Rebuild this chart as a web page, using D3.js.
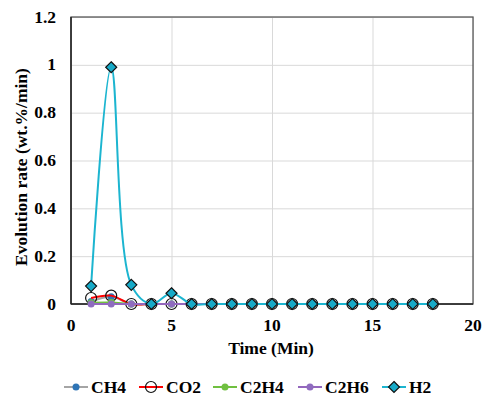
<!DOCTYPE html>
<html>
<head>
<meta charset="utf-8">
<script src="https://cdn.jsdelivr.net/npm/d3@7"></script>
<style>
  body { margin: 0; background: #fff; }
</style>
</head>
<body>
<div id="chart"></div>
<script>
// chart values
const times = [1, 2, 3, 4, 5, 6, 7, 8, 9, 10, 11, 12, 13, 14, 15, 16, 17, 18];
const ch4 = [0.01, 0.03, 0, 0, 0, 0, 0, 0, 0, 0, 0, 0, 0, 0, 0, 0, 0, 0];
const co2 = [0.025, 0.035, 0, 0, 0, 0, 0, 0, 0, 0, 0, 0, 0, 0, 0, 0, 0, 0];
const c2h4 = [0.005, 0.006, 0, 0, 0, 0, 0, 0, 0, 0, 0, 0, 0, 0, 0, 0, 0, 0];
const c2h6 = [0, 0, 0, 0, 0, 0, 0, 0, 0, 0, 0, 0, 0, 0, 0, 0, 0, 0];
const h2 = [0.075, 0.99, 0.08, 0, 0.045, 0, 0, 0, 0, 0, 0, 0, 0, 0, 0, 0, 0, 0];
const xTicks = [0, 5, 10, 15, 20];
const yTicks = [0, 0.2, 0.4, 0.6, 0.8, 1, 1.2];

const series = [
  { name: "CH4", values: ch4, line: "#a5a5a5", marker: "dot", fill: "#2e75b6" },
  { name: "CO2", values: co2, line: "#ff0000", marker: "circle", fill: "none" },
  { name: "C2H4", values: c2h4, line: "#70c040", marker: "dot", fill: "#70c040" },
  { name: "C2H6", values: c2h6, line: "#9467bd", marker: "dot", fill: "#8f6cbf" },
  { name: "H2", values: h2, line: "#1cb5d0", marker: "diamond", fill: "#17aac8" }
];

const width = 483, height = 397;
const FONT = "'Liberation Serif', 'Times New Roman', serif";

const svg = d3.select("#chart").append("svg")
  .attr("width", width)
  .attr("height", height)
  .attr("font-family", FONT)
  .attr("font-weight", "bold");

const xScale = d3.scaleLinear().domain([0, 20]).range([71, 473]);
const yScale = d3.scaleLinear().domain([0, 1.2]).range([304, 17]);

// gridlines
svg.append("g")
  .attr("transform", "translate(0,304)")
  .call(d3.axisBottom(xScale).tickValues(xTicks).tickSize(-(304 - 17)).tickFormat(""))
  .call(g => g.select(".domain").remove())
  .call(g => g.selectAll("line").attr("stroke", "#d9d9d9").attr("stroke-width", 1));

svg.append("g")
  .attr("transform", "translate(71,0)")
  .call(d3.axisLeft(yScale).tickValues(yTicks).tickSize(-(473 - 71)).tickFormat(""))
  .call(g => g.select(".domain").remove())
  .call(g => g.selectAll("line").attr("stroke", "#d9d9d9").attr("stroke-width", 1));

// frame
svg.append("rect")
  .attr("x", xScale(0))
  .attr("y", yScale(1.2))
  .attr("width", xScale(20) - xScale(0))
  .attr("height", yScale(0) - yScale(1.2))
  .attr("fill", "none")
  .attr("stroke", "#595959")
  .attr("stroke-width", 1.3);

svg.append("line")
  .attr("x1", xScale(0)).attr("x2", xScale(20))
  .attr("y1", yScale(0)).attr("y2", yScale(0))
  .attr("stroke", "#222").attr("stroke-width", 1.5);
svg.append("line")
  .attr("x1", xScale(0)).attr("x2", xScale(0))
  .attr("y1", yScale(0)).attr("y2", yScale(1.2))
  .attr("stroke", "#222").attr("stroke-width", 1.5);

// tick labels
svg.append("g").selectAll("text")
  .data(xTicks).enter().append("text")
  .attr("x", d => xScale(d))
  .attr("y", 331)
  .attr("text-anchor", "middle")
  .attr("font-size", 17.5)
  .text(d => d);

svg.append("g").selectAll("text")
  .data(yTicks).enter().append("text")
  .attr("x", 56)
  .attr("y", d => yScale(d) + 5.5)
  .attr("text-anchor", "end")
  .attr("font-size", 17.5)
  .text(d => d3.format("~g")(d));

// axis titles
svg.append("text")
  .attr("transform", "translate(27,167) rotate(-90)")
  .attr("text-anchor", "middle")
  .attr("font-size", 17.5)
  .text("Evolution rate (wt.%/min)");

svg.append("text")
  .attr("x", 271)
  .attr("y", 354)
  .attr("text-anchor", "middle")
  .attr("font-size", 17.5)
  .text("Time (Min)");

// lines + markers
const line = d3.line()
  .x((d, i) => xScale(times[i]))
  .y(d => yScale(d))
  .curve(d3.curveCatmullRom.alpha(0.5));

function drawMarker(g, s, x, y) {
  if (s.marker === "dot") {
    g.append("circle").attr("cx", x).attr("cy", y).attr("r", 3.5).attr("fill", s.fill);
  } else if (s.marker === "circle") {
    g.append("circle").attr("cx", x).attr("cy", y).attr("r", 5.5)
      .attr("fill", "none").attr("stroke", "#111").attr("stroke-width", 1.2);
  } else {
    const r = 5.5;
    g.append("path")
      .attr("d", "M" + x + "," + (y - r) + "L" + (x + r) + "," + y + "L" + x + "," + (y + r) + "L" + (x - r) + "," + y + "Z")
      .attr("fill", s.fill).attr("stroke", "#111").attr("stroke-width", 1.2);
  }
}

series.forEach(s => {
  const g = svg.append("g");
  g.append("path")
    .datum(s.values)
    .attr("d", line)
    .attr("fill", "none")
    .attr("stroke", s.line)
    .attr("stroke-width", 2);
  s.values.forEach((v, i) => drawMarker(g, s, xScale(times[i]), yScale(v)));
});

// legend
const legendX = [64, 139, 213, 298, 382];
const legend = svg.append("g");
series.forEach((s, i) => {
  const lg = legend.append("g");
  const x0 = legendX[i], y0 = 387;
  lg.append("line")
    .attr("x1", x0).attr("x2", x0 + 24)
    .attr("y1", y0).attr("y2", y0)
    .attr("stroke", s.line).attr("stroke-width", 2);
  drawMarker(lg, s, x0 + 12, y0);
  lg.append("text")
    .attr("x", x0 + 27)
    .attr("y", y0 + 6)
    .attr("font-size", 17.5)
    .text(s.name);
});
</script>
</body>
</html>
